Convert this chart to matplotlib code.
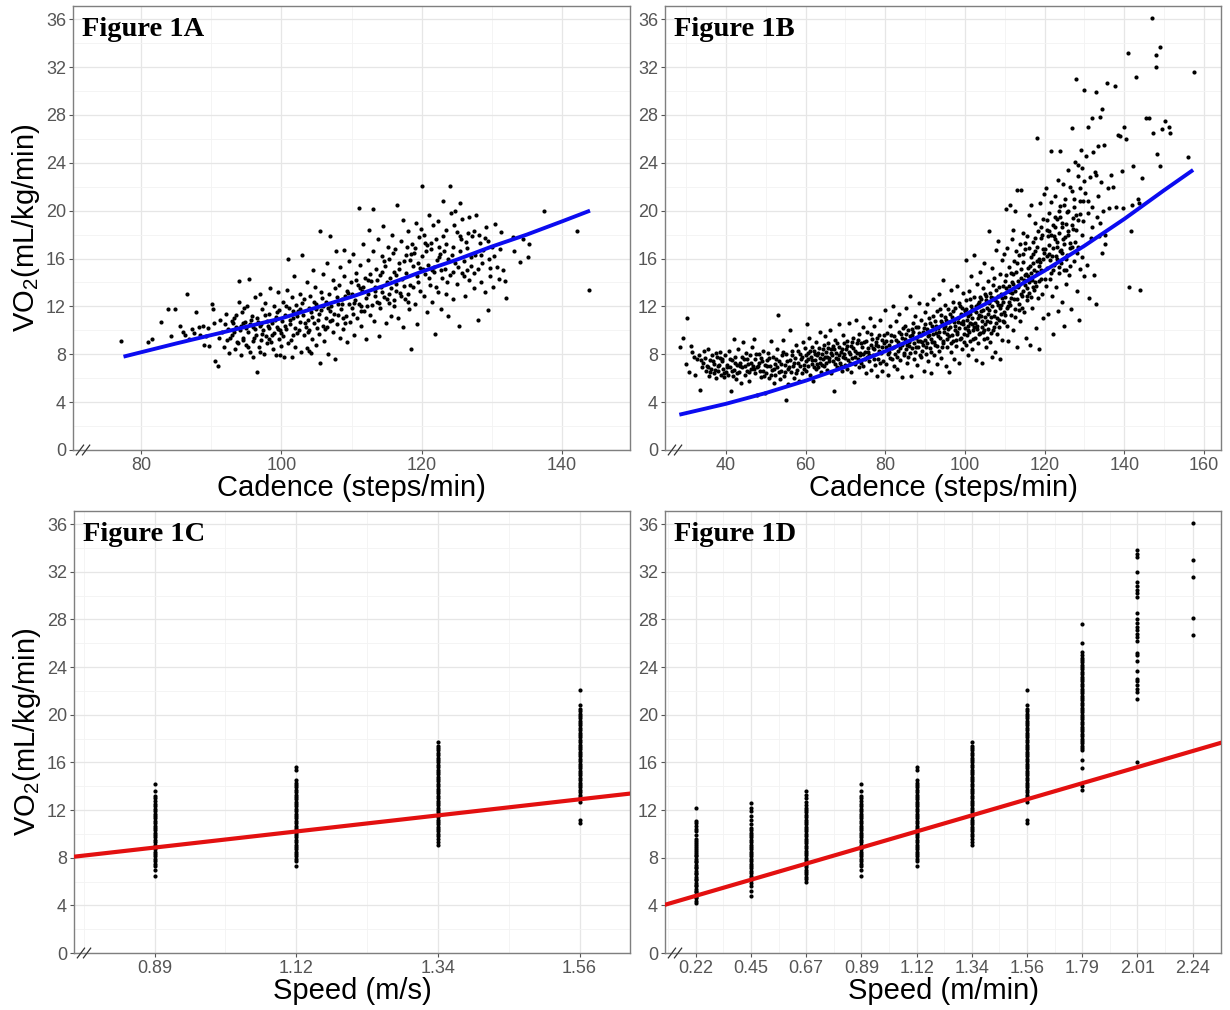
import matplotlib
matplotlib.use("Agg")
import matplotlib.pyplot as plt

plt.rcParams['font.family'] = ['Liberation Sans', 'DejaVu Sans']
plt.rcParams['mathtext.fontset'] = 'custom'
plt.rcParams['mathtext.rm'] = 'Liberation Sans'
plt.rcParams['mathtext.it'] = 'Liberation Sans:italic'

# ---- Figure 1A: cadence vs VO2 (cadence, VO2) ----
panel_a_points = [
    (77.2, 9.1), (81.0, 9.0), (81.6, 9.3), (82.8, 10.7), (83.8, 11.8), (84.2, 9.5), (84.9, 11.8),
    (85.6, 10.4), (86.0, 9.9), (86.3, 9.6), (86.5, 13.0), (86.8, 9.3), (87.2, 10.1), (87.5, 9.8),
    (87.9, 11.5), (88.2, 10.3), (88.4, 9.6), (88.8, 10.4), (89.0, 8.8), (89.2, 9.5), (89.5, 10.2),
    (89.7, 8.7), (90.1, 12.2), (90.2, 11.8), (90.4, 10.6), (90.6, 7.4), (90.9, 7.0), (91.1, 9.4),
    (91.3, 10.9), (91.6, 9.9), (91.8, 8.6), (92.0, 10.5), (92.1, 11.4), (92.3, 9.2), (92.6, 8.1),
    (92.9, 10.8),
    (93.0, 9.6), (93.2, 11.0), (93.4, 8.4), (93.5, 10.3), (93.7, 9.0), (93.9, 12.4), (94.0, 14.1),
    (94.1, 10.0), (94.3, 7.9), (94.4, 11.5), (94.6, 9.4), (94.8, 10.7), (94.9, 8.8), (95.1, 12.0),
    (95.2, 9.9), (95.4, 14.3), (95.5, 10.5), (95.6, 8.2), (95.8, 11.2), (95.9, 9.1), (96.0, 7.8),
    (96.2, 10.1), (96.3, 12.8), (96.4, 9.6), (96.5, 6.5), (96.6, 11.0), (96.8, 8.6), (96.9, 10.4),
    (97.0, 13.0), (97.1, 9.2), (97.2, 11.8), (97.4, 10.0), (97.5, 8.0), (97.6, 12.3), (97.8, 9.5),
    (97.9, 10.8), (98.0, 8.9), (98.2, 11.4), (98.3, 10.2), (98.4, 13.5), (98.5, 9.0), (98.7, 10.6),
    (98.8, 8.4), (98.9, 12.0), (99.0, 9.8), (99.2, 11.1), (99.3, 7.9), (99.4, 10.3), (99.5, 13.2),
    (99.6, 9.3), (99.7, 11.7), (99.8, 10.0), (99.9, 8.7),
    (100.1, 10.8), (100.2, 12.4), (100.3, 9.5), (100.4, 7.8), (100.5, 11.3), (100.7, 10.1),
    (100.8, 13.4), (100.9, 8.9), (101.0, 16.0), (101.1, 11.9), (101.2, 10.5), (101.4, 9.2),
    (101.5, 12.8), (101.6, 11.0), (101.8, 14.5), (101.9, 10.2), (102.0, 8.6), (102.1, 12.1),
    (102.3, 9.8), (102.4, 11.6), (102.6, 13.0), (102.7, 10.7), (102.8, 8.2), (103.0, 16.3),
    (103.1, 11.3), (103.2, 9.6), (103.3, 12.6), (103.5, 10.3), (103.6, 14.0), (103.7, 8.5),
    (103.9, 11.9), (104.0, 10.0), (104.1, 12.9), (104.3, 9.3), (104.4, 11.1), (104.5, 15.0),
    (104.7, 10.6), (104.8, 13.6), (104.9, 8.8), (105.0, 12.2), (105.2, 10.9), (105.3, 9.7),
    (105.5, 18.3), (105.5, 7.3), (105.6, 11.7), (105.7, 13.2), (105.9, 10.4), (106.0, 14.7),
    (106.1, 9.1), (106.3, 12.4), (106.4, 11.0), (106.5, 15.6), (106.7, 8.0), (106.8, 13.0),
    (106.9, 10.8), (107.0, 17.9), (107.1, 12.0), (107.3, 9.9), (107.4, 14.2), (107.5, 11.4),
    (107.7, 7.6), (107.8, 16.6), (107.9, 12.8), (108.0, 10.5), (108.2, 13.8), (108.3, 9.4),
    (108.4, 15.3), (108.5, 11.8), (108.7, 12.6), (108.8, 10.1), (108.9, 14.5), (109.0, 16.7),
    (109.2, 11.2), (109.3, 13.3), (109.4, 9.0), (109.6, 12.2), (109.7, 15.8), (109.8, 10.7),
    (109.9, 14.0),
    (110.0, 11.9), (110.1, 13.0), (110.2, 16.4), (110.4, 9.6), (110.5, 12.5), (110.6, 14.8),
    (110.8, 11.0), (110.9, 13.8), (111.0, 20.2), (111.1, 12.2), (111.2, 15.5), (111.4, 10.4),
    (111.5, 13.3), (111.6, 17.2), (111.8, 11.6), (111.9, 14.4), (112.0, 12.7), (112.1, 9.3),
    (112.3, 15.9), (112.4, 13.0), (112.5, 18.4), (112.6, 11.3), (112.8, 14.1), (112.9, 12.1),
    (113.0, 20.1), (113.1, 16.6), (113.2, 10.8), (113.4, 13.6), (113.5, 15.1), (113.6, 12.4),
    (113.8, 17.6), (113.9, 9.5), (114.0, 14.6), (114.1, 11.9), (114.3, 16.2), (114.4, 13.2),
    (114.5, 18.7), (114.7, 12.8), (114.8, 15.4), (114.9, 10.6), (115.0, 14.0), (115.2, 17.0),
    (115.3, 12.3), (115.4, 16.0), (115.6, 13.5), (115.7, 11.2), (115.8, 18.0), (116.0, 14.9),
    (116.1, 12.0), (116.2, 16.8), (116.4, 13.9), (116.5, 20.5), (116.6, 11.0), (116.8, 15.6),
    (116.9, 13.1), (117.0, 17.5), (117.2, 14.3), (117.3, 10.3), (117.4, 19.2), (117.6, 12.6),
    (117.7, 16.3), (117.8, 14.8), (118.0, 13.0), (118.1, 18.3), (118.2, 11.8), (118.4, 15.9),
    (118.5, 8.4), (118.6, 17.2), (118.8, 13.6), (118.9, 16.5), (119.0, 12.2), (119.2, 19.0),
    (119.3, 14.5), (119.4, 10.5), (119.6, 17.8), (119.7, 15.2), (119.8, 13.3), (119.9, 18.5),
    (120.0, 22.1), (120.1, 16.2), (120.3, 12.9), (120.4, 18.0), (120.5, 14.7), (120.7, 11.5),
    (120.8, 17.1), (120.9, 15.5), (121.0, 19.6), (121.2, 13.8), (121.3, 16.8), (121.5, 12.4),
    (121.6, 18.8), (121.7, 14.9), (121.9, 9.7), (122.0, 17.6), (122.2, 15.9), (122.3, 13.2),
    (122.4, 19.1), (122.6, 16.4), (122.7, 11.8), (122.9, 14.4), (123.0, 20.8), (123.1, 17.9),
    (123.3, 15.1), (123.4, 13.0), (123.5, 18.4), (123.7, 11.2), (123.8, 16.0), (124.0, 22.1),
    (124.1, 14.6), (124.2, 19.8), (124.4, 17.0), (124.5, 12.6), (124.7, 15.6), (124.8, 20.0),
    (125.0, 18.2), (125.1, 13.9), (125.3, 10.4), (125.4, 20.6), (125.5, 16.6), (125.7, 14.8),
    (125.8, 19.3), (126.0, 15.8), (126.2, 12.9), (126.3, 17.4), (126.5, 16.9), (126.7, 14.2),
    (126.8, 19.5), (127.0, 15.4), (127.2, 17.9), (127.4, 13.5), (127.6, 16.3), (127.8, 19.6),
    (128.0, 10.9), (128.1, 15.1), (128.3, 17.3), (128.5, 14.0), (128.8, 16.7), (129.0, 13.2),
    (129.2, 18.6), (129.4, 11.7), (129.6, 16.0), (129.8, 14.5), (130.0, 17.0), (130.2, 13.6),
    (130.5, 18.9), (130.8, 15.3), (131.0, 14.3), (131.3, 18.2), (131.6, 15.0), (131.9, 14.1),
    (132.0, 12.7),
    (133.0, 17.8), (133.2, 16.6), (134.0, 15.7), (134.5, 17.6), (135.2, 16.1), (135.3, 17.2),
    (137.5, 20.0), (142.2, 18.3), (143.8, 13.4),
]

# more of the dense core of 1A
panel_a_core = [
    (92.4, 10.1), (92.7, 9.4), (93.1, 10.6), (93.3, 9.9), (93.6, 11.3), (93.8, 8.9), (94.2, 10.4),
    (94.5, 9.2), (94.7, 11.9), (95.0, 10.2), (95.3, 8.6), (95.7, 10.9), (96.1, 9.4), (96.7, 10.7),
    (97.3, 9.7), (97.7, 11.3), (98.1, 10.4), (98.6, 9.6), (99.1, 10.9), (99.5, 10.1), (100.0, 9.8),
    (100.6, 12.0), (101.3, 10.9), (101.7, 9.6), (102.2, 11.2), (102.5, 10.0), (102.9, 12.3),
    (103.4, 10.6), (103.8, 9.9), (104.2, 11.5), (104.6, 12.4), (105.1, 10.2), (105.4, 11.4),
    (105.8, 12.7), (106.2, 10.1), (106.6, 11.9), (107.2, 10.9), (107.6, 13.5), (108.1, 11.3),
    (108.6, 12.2), (109.1, 10.6), (109.5, 13.1), (110.3, 12.3), (110.7, 14.2), (111.3, 11.6),
    (111.7, 13.6), (112.2, 12.0), (112.7, 14.7), (113.3, 12.9), (113.7, 14.2), (114.2, 13.6),
    (114.6, 15.8), (115.1, 12.6), (115.5, 14.4), (115.9, 16.5), (116.3, 13.3), (116.7, 15.1),
    (117.1, 12.9), (117.5, 15.8), (117.9, 17.0), (118.3, 13.8), (118.7, 15.4), (119.1, 16.9),
    (119.5, 14.0), (120.2, 15.1), (120.6, 16.6), (121.1, 14.4), (121.4, 17.3), (121.8, 15.3),
    (122.1, 13.6), (122.5, 17.0), (122.8, 15.0), (123.2, 16.6), (123.6, 14.0), (124.3, 16.3),
    (124.6, 18.8), (125.2, 15.3), (125.6, 17.6), (126.1, 14.5), (126.6, 18.1), (127.1, 16.1),
    (127.5, 14.8), (128.2, 18.0), (128.6, 15.6), (129.1, 17.7), (129.7, 15.2), (130.3, 16.2),
    (131.1, 16.8), (99.8, 7.9), (101.5, 7.8), (104.0, 8.3), (104.2, 8.1), (97.0, 8.2),
    (94.6, 10.6), (95.9, 10.3), (97.1, 10.5), (98.3, 9.3), (99.4, 11.5), (100.5, 10.4),
    (101.6, 11.6), (102.7, 11.8), (103.8, 10.9), (104.9, 11.8), (105.9, 12.0), (107.0, 11.6),
    (108.1, 12.2), (109.1, 12.9), (110.2, 11.4), (111.2, 13.5), (112.3, 14.2), (113.3, 13.3),
    (114.4, 14.9), (115.4, 13.0), (116.4, 14.6), (117.5, 13.7), (118.5, 16.4), (119.5, 15.6),
    (120.5, 17.3), (121.5, 15.0), (122.5, 16.1), (123.5, 17.2), (124.5, 14.9), (125.5, 17.9),
    (126.5, 15.0), (127.5, 18.3), (128.5, 16.3), (129.5, 17.5), (106.5, 10.3), (108.8, 11.0),
    (111.4, 12.0), (113.9, 12.3), (116.0, 12.5), (118.1, 12.4),
]

# fitted curve of 1A
fit_a_cadence = [77.5, 85, 90, 95, 100, 105, 110, 115, 120, 125, 130, 135, 140, 144]
fit_a_vo2 = [7.8, 8.9, 9.6, 10.3, 11.0, 11.9, 12.8, 13.8, 14.9, 15.9, 17.0, 18.0, 19.1, 20.0]

# ---- Figure 1B ----
panel_b_points = [
    (28.5, 8.6), (29.3, 9.4), (30.2, 11.0), (30.0, 7.2), (30.8, 6.5), (31.2, 8.7), (31.4, 8.2),
    (31.9, 7.8), (32.3, 6.3), (32.8, 7.6), (33.2, 7.9), (33.6, 5.0), (34.0, 6.9), (34.3, 7.3),
    (34.6, 8.3), (35.0, 6.6), (35.2, 7.0), (35.5, 8.4), (35.8, 6.2), (36.0, 7.5), (36.3, 6.8),
    (36.6, 7.9), (36.9, 6.4), (37.1, 7.2), (37.4, 8.1), (37.6, 6.0), (37.9, 7.0), (38.1, 6.6),
    (38.4, 7.7), (38.6, 8.2), (38.8, 6.3), (39.1, 7.4), (39.3, 6.8), (39.6, 6.1), (39.8, 7.9),
    (40.0, 6.5), (40.2, 7.1), (40.5, 6.3), (40.7, 8.3), (41.0, 6.9), (41.2, 4.9), (41.4, 7.5),
    (41.7, 6.2), (41.9, 9.3), (42.1, 6.7), (42.4, 7.8), (42.6, 5.9), (42.8, 7.1), (43.1, 8.4),
    (43.3, 6.5), (43.6, 7.3), (43.8, 5.6), (44.0, 6.9), (44.3, 9.0), (44.5, 7.6), (44.8, 6.3),
    (45.0, 8.1), (45.2, 6.6), (45.5, 7.2), (45.7, 5.8), (46.0, 7.9), (46.2, 6.8), (46.5, 8.6),
    (46.7, 7.0), (47.0, 9.3), (47.2, 6.4), (47.4, 7.6), (47.7, 4.6), (47.9, 6.9), (48.2, 8.0),
    (48.4, 7.3), (48.7, 6.1), (48.9, 7.7), (49.2, 6.6), (49.4, 8.3), (49.7, 7.1), (49.9, 4.8),
    (50.1, 6.4), (50.3, 7.5), (50.6, 8.1), (50.8, 6.0), (51.0, 7.0), (51.3, 9.1), (51.5, 6.7),
    (51.7, 7.8), (52.0, 5.6), (52.2, 7.2), (52.4, 6.3), (52.7, 8.4), (52.9, 6.9), (53.1, 11.3),
    (53.3, 7.4), (53.6, 5.9), (53.8, 6.6), (54.0, 7.9), (54.3, 9.2), (54.5, 6.2), (54.8, 7.1),
    (55.0, 4.2), (55.2, 8.0), (55.5, 6.8), (55.7, 5.5), (56.0, 7.5), (56.2, 10.0), (56.4, 6.5),
    (56.7, 8.3), (56.9, 7.0), (57.2, 6.0), (57.4, 7.7), (57.6, 8.8), (57.9, 6.7), (58.1, 7.3),
    (58.4, 5.8), (58.6, 8.0), (58.8, 7.6), (59.1, 6.4), (59.3, 9.0), (59.5, 7.1), (59.8, 8.5),
    (60.0, 7.4), (60.2, 6.6), (60.3, 10.5), (60.5, 8.1), (60.7, 7.0), (60.9, 9.4), (61.1, 6.3),
    (61.3, 7.8), (61.5, 8.6), (61.7, 7.2), (61.9, 5.8), (62.1, 8.3), (62.3, 7.5), (62.5, 6.8),
    (62.7, 9.0), (62.9, 7.9), (63.1, 6.9), (63.3, 8.5), (63.5, 7.3), (63.7, 9.9), (63.9, 6.5),
    (64.1, 8.0), (64.3, 7.6), (64.5, 8.8), (64.7, 7.0), (64.9, 9.5), (65.1, 8.2), (65.3, 6.7),
    (65.5, 7.8), (65.7, 8.9), (65.9, 7.4), (66.1, 10.0), (66.3, 8.4), (66.5, 6.4), (66.7, 7.9),
    (66.9, 8.7), (67.1, 4.9), (67.3, 7.2), (67.5, 9.2), (67.7, 8.1), (67.9, 6.9), (68.1, 7.6),
    (68.3, 8.6), (68.5, 10.5), (68.7, 7.3), (68.9, 8.2), (69.1, 6.6), (69.3, 9.6), (69.5, 7.8),
    (69.7, 8.9), (69.9, 7.1),
    (70.1, 8.4), (70.3, 6.8), (70.5, 9.1), (70.7, 7.5), (70.9, 10.6), (71.1, 8.0), (71.3, 6.5),
    (71.5, 8.7), (71.7, 7.7), (71.9, 9.4), (72.1, 5.7), (72.3, 8.3), (72.5, 7.2), (72.7, 10.9),
    (72.9, 8.9), (73.1, 7.6), (73.3, 6.9), (73.5, 9.7), (73.7, 8.1), (73.9, 7.3), (74.1, 8.6),
    (74.3, 10.3), (74.5, 7.0), (74.7, 9.0), (74.9, 8.2), (75.1, 6.4), (75.3, 7.8), (75.5, 9.9),
    (75.7, 8.5), (75.9, 7.4), (76.1, 11.0), (76.3, 8.8), (76.5, 6.7), (76.7, 9.3), (76.9, 7.9),
    (77.1, 8.4), (77.3, 10.4), (77.5, 7.1), (77.7, 9.0), (77.9, 6.2), (78.1, 8.7), (78.3, 7.6),
    (78.5, 9.6), (78.7, 10.9), (78.9, 8.1), (79.1, 6.6), (79.3, 9.2), (79.5, 7.4), (79.7, 8.9),
    (79.9, 11.7),
    (80.1, 8.6), (80.3, 7.2), (80.5, 9.8), (80.7, 6.3), (80.9, 8.2), (81.1, 10.4), (81.3, 7.7),
    (81.5, 9.1), (81.7, 8.5), (81.9, 12.0), (82.1, 7.0), (82.3, 9.5), (82.5, 8.0), (82.7, 10.8),
    (82.9, 6.8), (83.1, 9.0), (83.3, 8.3), (83.5, 11.4), (83.7, 7.5), (83.9, 9.7), (84.1, 8.8),
    (84.3, 6.1), (84.5, 10.2), (84.7, 7.9), (84.9, 9.3), (85.1, 11.9), (85.3, 8.4), (85.5, 7.3),
    (85.7, 10.0), (85.9, 9.0), (86.1, 12.9), (86.3, 8.1), (86.5, 6.2), (86.7, 9.6), (86.9, 10.6),
    (87.1, 7.6), (87.3, 8.9), (87.5, 11.2), (87.7, 9.4), (87.9, 7.1), (88.1, 10.3), (88.3, 8.6),
    (88.5, 12.3), (88.7, 9.1), (88.9, 7.8), (89.1, 10.9), (89.3, 8.3), (89.5, 9.9), (89.7, 6.6),
    (89.9, 11.5),
    (90.1, 9.2), (90.3, 8.0), (90.4, 12.2), (90.6, 10.1), (90.8, 7.4), (91.0, 9.6), (91.1, 11.0),
    (91.3, 8.5), (91.5, 6.4), (91.7, 10.4), (91.8, 9.0), (92.0, 12.6), (92.2, 7.9), (92.4, 10.8),
    (92.5, 8.8), (92.7, 9.8), (92.9, 11.6), (93.1, 7.2), (93.2, 10.2), (93.4, 8.3), (93.6, 13.0),
    (93.8, 9.4), (93.9, 11.3), (94.1, 7.7), (94.3, 10.6), (94.5, 8.9), (94.6, 14.2), (94.8, 9.9),
    (95.0, 12.1), (95.2, 7.0), (95.3, 10.9), (95.5, 8.6), (95.7, 11.8), (95.9, 9.5), (96.0, 6.5),
    (96.2, 10.3), (96.4, 13.4), (96.6, 8.2), (96.7, 11.1), (96.9, 9.1), (97.1, 12.4), (97.3, 7.6),
    (97.4, 10.0), (97.6, 11.9), (97.8, 8.7), (98.0, 13.7), (98.1, 9.7), (98.3, 10.7), (98.5, 7.3),
    (98.7, 12.0), (98.8, 9.3), (99.0, 11.4), (99.2, 8.4), (99.4, 10.5), (99.5, 13.1), (99.7, 9.0),
    (99.9, 11.7),
    (100.0, 10.2), (100.2, 8.8), (100.3, 15.9), (100.4, 12.5), (100.6, 9.6), (100.7, 11.2),
    (100.9, 7.9), (101.0, 13.3), (101.2, 10.6), (101.3, 9.1), (101.5, 12.0), (101.6, 14.5),
    (101.8, 8.4), (101.9, 11.0), (102.1, 10.0), (102.2, 16.3), (102.4, 12.8), (102.5, 9.4),
    (102.7, 11.5), (102.8, 7.5), (103.0, 13.9), (103.1, 10.4), (103.3, 12.2), (103.4, 8.9),
    (103.6, 11.3), (103.7, 14.9), (103.9, 9.8), (104.0, 12.6), (104.2, 10.8), (104.3, 7.3),
    (104.5, 13.5), (104.6, 11.7), (104.8, 9.3), (104.9, 15.6), (105.1, 10.5), (105.2, 12.9),
    (105.4, 8.6), (105.5, 11.9), (105.7, 14.1), (105.8, 10.1), (106.0, 18.3), (106.1, 12.3),
    (106.3, 9.0), (106.4, 13.1), (106.6, 11.1), (106.7, 7.8), (106.9, 15.2), (107.0, 12.7),
    (107.2, 10.3), (107.3, 14.4), (107.5, 8.2), (107.6, 11.6), (107.8, 16.7), (107.9, 13.4),
    (108.1, 9.7), (108.2, 12.1), (108.4, 17.5), (108.5, 10.9), (108.7, 14.7), (108.8, 7.6),
    (109.0, 13.0), (109.1, 11.4), (109.3, 15.9), (109.4, 9.2), (109.6, 12.4), (109.7, 16.4),
    (109.9, 10.7),
    (100.5, 10.9), (101.1, 9.9), (101.7, 11.8), (102.3, 10.3), (102.9, 12.0), (103.5, 9.7),
    (104.1, 11.6), (104.7, 10.0), (105.3, 12.5), (105.9, 11.4), (106.5, 9.8), (107.1, 13.8),
    (107.7, 10.6), (108.3, 12.9), (108.9, 11.9), (109.5, 13.7),
    (110.0, 12.8), (110.2, 20.1), (110.3, 14.6), (110.5, 10.4), (110.6, 16.9), (110.8, 12.0),
    (110.9, 9.1), (111.1, 15.3), (111.2, 20.5), (111.4, 13.2), (111.5, 11.3), (111.7, 17.6),
    (111.8, 14.0), (112.0, 10.0), (112.1, 18.4), (112.3, 12.6), (112.4, 15.8), (112.6, 20.0),
    (112.7, 11.8), (112.9, 14.9), (113.0, 8.6), (113.2, 21.7), (113.3, 13.6), (113.5, 16.3),
    (113.6, 12.2), (113.8, 17.2), (113.9, 10.8), (114.1, 14.4), (114.2, 21.7), (114.4, 12.9),
    (114.5, 15.7), (114.7, 18.1), (114.8, 11.5), (115.0, 13.8), (115.1, 16.8), (115.3, 9.4),
    (115.4, 14.7), (115.6, 17.9), (115.7, 12.5), (115.9, 15.2), (116.0, 19.6), (116.2, 13.1),
    (116.3, 8.8), (116.5, 16.1), (116.6, 20.5), (116.8, 14.2), (116.9, 11.9), (117.1, 17.4),
    (117.2, 15.6), (117.4, 13.4), (117.5, 19.0), (117.7, 16.6), (117.8, 10.2), (118.0, 26.1),
    (118.1, 14.9), (118.3, 18.3), (118.4, 12.7), (118.6, 16.0), (118.7, 8.4), (118.9, 20.6),
    (119.0, 15.0), (119.2, 17.7), (119.3, 13.0), (119.5, 19.3), (119.6, 11.0), (119.8, 16.5),
    (119.9, 21.4),
    (110.4, 13.5), (111.0, 12.4), (111.6, 14.8), (112.2, 13.9), (112.8, 16.6), (113.4, 14.1),
    (114.0, 15.1), (114.6, 13.3), (115.2, 17.3), (115.8, 14.5), (116.4, 15.4), (117.0, 16.4),
    (117.6, 14.0), (118.2, 17.0), (118.8, 15.7), (119.4, 18.0),
    (120.1, 16.8), (120.3, 13.7), (120.4, 21.9), (120.6, 18.4), (120.7, 15.2), (120.9, 11.4),
    (121.0, 19.8), (121.2, 17.1), (121.3, 14.3), (121.5, 25.0), (121.6, 20.7), (121.8, 16.2),
    (121.9, 12.9), (122.1, 18.8), (122.2, 9.7), (122.4, 15.5), (122.5, 21.2), (122.7, 17.6),
    (122.8, 13.6), (123.0, 19.3), (123.1, 16.0), (123.3, 22.6), (123.4, 11.6), (123.6, 18.1),
    (123.7, 14.8), (123.9, 20.4), (124.0, 25.0), (124.2, 16.7), (124.3, 12.4), (124.5, 19.0),
    (124.6, 22.2), (124.8, 15.0), (124.9, 10.4), (125.1, 17.8), (125.2, 21.0), (125.4, 13.9),
    (125.5, 18.9), (125.7, 16.3), (125.8, 23.4), (126.0, 20.0), (126.2, 14.6), (126.4, 17.3),
    (126.6, 11.8), (126.8, 21.6), (127.0, 26.9), (127.2, 18.5), (127.4, 15.8), (127.6, 24.1),
    (127.8, 19.6), (128.0, 31.0), (128.1, 13.3), (128.3, 22.9), (128.5, 17.0), (128.7, 10.9),
    (128.9, 20.8), (129.1, 25.1), (129.3, 16.1), (129.5, 23.6), (129.7, 19.1), (129.9, 14.5),
    (120.8, 17.9), (121.4, 15.9), (122.0, 16.9), (122.6, 19.5), (123.2, 17.4), (123.8, 16.6),
    (124.4, 18.6), (125.0, 17.2), (125.6, 19.9), (126.3, 16.9), (126.9, 18.8), (127.5, 20.3),
    (128.2, 16.5), (128.8, 21.9), (129.4, 18.0),
    (130.0, 30.1), (130.2, 21.5), (130.4, 24.6), (130.6, 15.5), (130.8, 19.8), (131.0, 27.0),
    (131.2, 12.7), (131.4, 22.8), (131.6, 17.7), (131.8, 27.7), (132.0, 20.3), (132.2, 24.9),
    (132.4, 14.6), (132.6, 23.2), (132.8, 12.2), (133.0, 29.9), (133.1, 19.5), (133.3, 25.4),
    (133.5, 21.2), (133.7, 17.9), (133.9, 27.8), (134.1, 22.4), (134.3, 16.5), (134.5, 28.5),
    (134.7, 20.0), (134.9, 25.5), (135.1, 17.2), (135.3, 18.0), (135.7, 30.7), (136.0, 21.9),
    (136.3, 20.2), (136.8, 23.0), (137.2, 22.0), (137.6, 30.4), (138.0, 20.3), (138.5, 26.3),
    (139.0, 26.2), (139.4, 23.3), (139.7, 20.2), (140.0, 27.0),
    (140.5, 26.0), (141.0, 33.2), (141.3, 13.6), (141.8, 18.3), (142.0, 20.5), (142.2, 23.7),
    (143.0, 31.2), (143.4, 21.0), (143.7, 20.6), (144.0, 13.4), (144.5, 22.7), (145.5, 27.7),
    (146.2, 27.7), (147.0, 36.1), (147.2, 26.5), (148.0, 33.0), (148.1, 32.0), (148.3, 24.7),
    (149.0, 33.7), (149.0, 23.7), (149.5, 26.8), (150.3, 27.5), (151.2, 27.0), (151.6, 26.5),
    (156.0, 24.5), (157.5, 31.6),
]

# more of the dense band of 1B
panel_b_core = [
    (33.8, 7.5), (34.8, 7.7), (35.4, 6.9), (36.1, 6.5), (36.8, 7.4), (37.3, 6.7), (37.8, 7.8),
    (38.3, 7.1), (38.9, 7.6), (39.4, 6.4), (40.3, 6.9), (40.9, 7.6), (41.5, 6.6), (42.2, 7.3),
    (42.9, 6.4), (43.5, 7.0), (44.1, 7.8), (44.7, 7.0), (45.3, 7.6), (45.9, 6.5), (46.4, 7.3),
    (47.1, 6.8), (47.6, 8.0), (48.1, 7.0), (48.6, 6.6), (49.1, 7.4), (49.6, 6.2), (50.4, 7.0),
    (50.9, 7.7), (51.4, 6.3), (52.1, 6.8), (52.6, 7.6), (53.2, 6.5), (53.9, 7.2), (54.4, 8.2),
    (54.9, 6.5), (55.4, 7.4), (55.9, 6.9), (56.5, 7.9), (57.0, 7.3), (57.5, 6.4), (58.0, 8.3),
    (58.5, 7.0), (59.0, 7.8), (59.6, 6.8),
    (60.1, 7.9), (60.6, 7.6), (61.0, 8.3), (61.6, 7.5), (62.0, 6.9), (62.4, 8.0), (62.8, 7.2),
    (63.2, 8.1), (63.6, 7.7), (64.0, 7.1), (64.4, 8.4), (64.8, 7.8), (65.2, 7.3), (65.6, 8.5),
    (66.0, 7.7), (66.4, 8.1), (66.8, 7.4), (67.2, 8.4), (67.6, 7.7), (68.0, 8.9), (68.4, 7.9),
    (68.8, 7.0), (69.2, 8.4), (69.6, 8.0), (70.0, 7.7), (70.4, 8.7), (70.8, 8.2), (71.2, 7.3),
    (71.6, 9.0), (72.0, 8.5), (72.4, 7.8), (72.8, 8.1), (73.2, 9.2), (73.6, 7.9), (74.0, 8.9),
    (74.4, 8.0), (74.8, 7.6), (75.2, 9.1), (75.6, 8.2), (76.0, 7.9), (76.4, 9.7), (76.8, 8.5),
    (77.2, 7.6), (77.6, 8.8), (78.0, 9.4), (78.4, 8.3), (78.8, 7.3), (79.2, 8.6), (79.6, 9.6),
    (80.2, 9.1), (80.6, 8.0), (81.0, 8.8), (81.4, 9.6), (81.8, 7.6), (82.2, 8.6), (82.6, 9.2),
    (83.0, 7.8), (83.4, 9.9), (83.8, 8.5), (84.2, 9.4), (84.6, 8.1), (85.0, 10.4), (85.4, 8.8),
    (85.8, 7.8), (86.2, 9.5), (86.6, 8.5), (87.0, 9.9), (87.4, 8.2), (87.8, 10.3), (88.2, 9.1),
    (88.6, 7.9), (89.0, 9.6), (89.4, 8.8), (89.8, 10.2), (90.2, 8.6), (90.7, 9.5), (91.2, 10.6),
    (91.6, 8.2), (92.1, 9.7), (92.6, 10.1), (93.0, 8.7), (93.5, 9.9), (94.0, 10.8), (94.4, 9.1),
    (94.9, 10.4), (95.4, 9.3), (95.8, 10.1), (96.3, 11.4), (96.8, 9.6), (97.2, 10.7), (97.7, 9.2),
    (98.2, 11.0), (98.6, 10.2), (99.1, 9.4), (99.6, 10.8),
    (100.1, 11.6), (100.8, 10.4), (101.4, 11.4), (102.0, 9.3), (102.6, 10.6), (103.2, 11.0),
    (103.8, 12.8), (104.4, 10.3), (105.0, 11.1), (105.6, 9.4), (106.2, 10.7), (106.8, 12.0),
    (107.4, 11.2), (108.0, 12.4), (108.6, 10.3), (109.2, 12.7), (109.8, 11.5), (110.1, 11.3),
    (110.7, 13.3), (111.3, 12.1), (111.9, 13.1), (112.5, 11.1), (113.1, 12.6), (113.7, 13.8),
    (114.3, 11.9), (114.9, 14.2), (115.5, 12.9), (116.1, 14.0), (116.7, 12.8), (117.3, 15.0),
    (117.9, 13.7), (118.5, 15.4), (119.1, 14.3), (119.7, 16.0),
    (120.5, 16.2), (121.1, 18.3), (121.7, 14.8), (122.3, 17.9), (122.9, 16.2), (123.5, 20.0),
    (124.1, 15.6), (124.7, 17.6), (125.3, 16.0), (125.9, 18.0), (126.5, 15.4), (127.1, 19.4),
    (127.7, 17.4), (128.4, 19.2), (129.0, 15.1), (129.6, 20.8),
    (85.2, 9.7), (86.0, 8.7), (86.8, 10.1), (87.6, 8.6), (88.4, 9.8), (89.2, 9.0), (90.0, 10.5),
    (90.5, 8.9), (91.4, 9.3), (91.9, 11.2), (92.3, 9.0), (92.8, 10.4), (93.3, 9.5), (93.7, 11.8),
    (94.2, 8.6), (94.7, 10.2), (95.1, 11.1), (95.6, 9.7), (96.1, 10.7), (96.5, 8.9), (97.0, 11.6),
    (97.5, 10.4), (97.9, 9.9), (98.4, 12.3), (98.9, 10.6), (99.3, 11.9), (99.8, 9.7),
    (100.3, 11.8), (100.9, 10.0), (101.4, 12.6), (101.9, 10.5), (102.4, 11.7), (103.0, 10.1),
    (103.5, 12.4), (104.0, 11.2), (104.5, 9.9), (105.0, 13.0), (105.5, 10.8), (106.0, 11.7),
    (106.5, 12.8), (107.0, 10.0), (107.5, 12.5), (108.0, 11.0), (108.5, 13.6), (109.0, 12.1),
    (109.5, 10.8), (110.0, 14.1), (110.5, 11.9), (111.0, 13.7), (111.5, 12.7), (112.0, 14.7),
    (112.5, 13.3), (113.0, 15.6), (113.5, 11.7), (114.0, 13.0), (114.5, 16.4), (115.0, 14.6),
    (115.5, 13.5), (116.0, 16.9), (116.5, 14.8), (117.0, 13.6), (117.5, 17.7), (118.0, 15.8),
    (118.5, 14.1), (119.0, 18.6), (119.5, 16.8), (120.0, 14.3), (120.5, 19.2), (121.0, 16.4),
    (121.5, 18.0), (122.0, 15.0), (122.5, 18.6), (123.0, 17.0), (123.5, 15.3), (124.0, 19.5),
    (124.5, 16.5), (125.0, 20.5), (125.5, 15.0), (126.0, 18.3), (126.5, 22.0), (127.0, 17.0),
    (127.5, 21.0), (128.0, 18.4), (128.5, 23.8), (129.0, 19.7), (130.0, 22.5), (131.0, 20.8),
    (132.0, 18.6), (133.0, 23.0), (134.0, 19.0),
]

fit_b_cadence = [28.3, 40, 50, 60, 70, 80, 90, 100, 110, 120, 130, 140, 150, 157.3]
fit_b_vo2 = [2.95, 3.86, 4.76, 5.79, 6.95, 8.25, 9.7, 11.3, 13.06, 14.98, 17.06, 19.3, 21.7, 23.4]

# ---- Figures 1C / 1D: treadmill speed stages ----
speeds = [0.2235, 0.447, 0.6705, 0.894, 1.1175, 1.341, 1.5645, 1.788, 2.0115, 2.235]
speed_labels = ['0.22', '0.45', '0.67', '0.89', '1.12', '1.34', '1.56', '1.79', '2.01', '2.24']

vo2_022 = [4.2, 4.4, 4.6, 4.7, 4.9, 5.1, 5.2, 5.4, 5.6, 5.7, 5.9, 6.1, 6.2, 6.4, 6.6, 6.7, 6.9,
           7.1, 7.2, 7.4, 7.6, 7.7, 7.9, 8.1, 8.2, 8.4, 8.6, 8.7, 8.9, 9.1, 9.2, 9.4, 9.6,
           9.9, 10.2, 10.4, 10.7, 10.9, 11.1, 12.2]
vo2_045 = [4.8, 5.2, 5.6, 5.9, 6.1, 6.3, 6.5, 6.7, 6.9, 7.1, 7.3, 7.5, 7.7, 7.9, 8.1, 8.3, 8.5,
           8.7, 8.9, 9.1, 9.3, 9.5, 9.7, 9.9, 10.1, 10.3, 10.5, 10.8, 11.2, 11.5, 11.9, 12.2,
           12.6]
vo2_067 = [6.0, 6.2, 6.4, 6.6, 6.8, 7.0, 7.2, 7.4, 7.6, 7.8, 8.0, 8.2, 8.4, 8.6, 8.8, 9.0, 9.2,
           9.4, 9.6, 9.8, 10.0, 10.2, 10.4, 10.6, 10.8, 11.0, 11.2, 11.4, 11.6, 11.8, 12.0,
           12.2, 12.4, 12.7, 13.0, 13.3, 13.6]
vo2_089 = [6.5, 7.0, 7.3, 7.5, 7.7, 7.9, 8.1, 8.3, 8.5, 8.7, 8.9, 9.1, 9.3, 9.5, 9.7, 9.9,
           10.1, 10.3, 10.5, 10.7, 10.9, 11.1, 11.3, 11.5, 11.7, 11.9, 12.1, 12.3, 12.5, 12.8,
           13.0, 13.2, 13.6, 14.2]
vo2_112 = [7.3, 7.7, 7.9, 8.1, 8.3, 8.5, 8.7, 8.9, 9.1, 9.3, 9.5, 9.7, 9.9, 10.1, 10.3, 10.5,
           10.7, 10.9, 11.1, 11.3, 11.5, 11.7, 11.9, 12.1, 12.3, 12.5, 12.7, 12.9, 13.1, 13.3,
           13.5, 13.7, 13.9, 14.1, 14.3, 14.5, 15.4, 15.6]
vo2_134 = [9.1, 9.3, 9.6, 9.8, 10.0, 10.2, 10.4, 10.6, 10.8, 11.0, 11.2, 11.4, 11.6, 11.8,
           12.0, 12.2, 12.4, 12.6, 12.8, 13.0, 13.2, 13.4, 13.6, 13.8, 14.0, 14.2, 14.4, 14.6,
           14.8, 15.0, 15.2, 15.4, 15.6, 15.8, 16.0, 16.2, 16.4, 16.6, 16.8, 17.0, 17.2, 17.4,
           17.7]
vo2_156 = [10.9, 11.2, 12.7, 12.9, 13.1, 13.3, 13.5, 13.7, 13.9, 14.1, 14.3, 14.5, 14.7, 14.9,
           15.1, 15.3, 15.5, 15.7, 15.9, 16.1, 16.3, 16.5, 16.7, 16.9, 17.1, 17.3, 17.5, 17.7,
           17.9, 18.1, 18.3, 18.5, 18.7, 18.9, 19.1, 19.3, 19.5, 19.7, 19.9, 20.1, 20.3, 20.5,
           20.8, 22.1]
vo2_179 = [13.7, 14.0, 15.5, 16.2, 17.0, 17.2, 17.4, 17.6, 17.8, 18.0, 18.2, 18.4, 18.6, 18.8,
           19.0, 19.2, 19.4, 19.6, 19.8, 20.0, 20.2, 20.4, 20.6, 20.8, 21.0, 21.2, 21.4, 21.6,
           21.8, 22.0, 22.2, 22.4, 22.6, 22.8, 23.0, 23.2, 23.4, 23.6, 23.8, 24.0, 24.2, 24.4,
           24.6, 24.8, 25.0, 25.3, 26.0, 27.6]
vo2_201 = [16.0, 21.3, 21.9, 22.2, 22.5, 22.8, 23.0, 23.7, 24.5, 25.0, 25.2, 26.2, 26.5, 26.8,
           27.1, 27.4, 27.7, 28.0, 28.5, 29.9, 30.2, 30.5, 30.8, 31.1, 32.0, 33.2, 33.5, 33.8]
vo2_224 = [26.7, 28.1, 31.6, 33.0, 36.1]

stage_vo2 = [vo2_022, vo2_045, vo2_067, vo2_089, vo2_112, vo2_134, vo2_156, vo2_179, vo2_201, vo2_224]

# linear fit (same in C and D), two points read on the red line
fit_speed = [0.894, 1.5645]
fit_speed_vo2 = [8.85, 12.9]

ylabel = r'VO$_2$(mL/kg/min)'
GRID_MAJ = '#e6e6e6'
GRID_MIN = '#f3f3f3'
BORDER = '#7f7f7f'
BLUE = '#0b0bf0'
RED = '#e31010'
DOT = 9


def style_axes(ax, xlim, xticks, xticklabels, xminor, xlabel, tag, show_ylabel):
    ax.set_xlim(*xlim)
    ax.set_ylim(0, 37.1)
    ax.set_xticks(xticks)
    ax.set_xticklabels(xticklabels)
    ax.set_xticks(xminor, minor=True)
    ax.set_yticks(range(0, 37, 4))
    ax.set_yticks(range(2, 37, 4), minor=True)
    ax.grid(which='major', color=GRID_MAJ, linewidth=0.9, zorder=0)
    ax.grid(which='minor', color=GRID_MIN, linewidth=0.6, zorder=0)
    ax.set_axisbelow(True)
    ax.tick_params(which='major', length=3, width=0.8, color='#555555', pad=2,
                   labelsize=13, labelcolor='#555555')
    ax.tick_params(which='minor', length=0)
    for sp in ax.spines.values():
        sp.set_color(BORDER)
        sp.set_linewidth(1.0)
    ax.set_xlabel(xlabel, fontsize=21, labelpad=0)
    if show_ylabel:
        ax.set_ylabel(ylabel, fontsize=21, labelpad=3)
    ax.text(0.017, 0.932, tag, transform=ax.transAxes, fontsize=20.5, fontweight='bold',
            family='Liberation Serif', va='baseline', ha='left')
    # axis break marks
    for dx in (0.006, 0.017):
        ax.plot([dx, dx + 0.013], [-0.011, 0.011], transform=ax.transAxes, color='#333333',
                linewidth=0.9, clip_on=False, zorder=5)


fig = plt.figure(figsize=(12.3, 10.1), dpi=100)
ax_a = fig.add_axes([73 / 1230, 560 / 1010, 557 / 1230, 444 / 1010])
ax_b = fig.add_axes([665 / 1230, 560 / 1010, 556 / 1230, 444 / 1010])
ax_c = fig.add_axes([74 / 1230, 57 / 1010, 556 / 1230, 442 / 1010])
ax_d = fig.add_axes([665 / 1230, 57 / 1010, 556 / 1230, 442 / 1010])

# A
pts_a = panel_a_points + panel_a_core
ax_a.scatter([p[0] for p in pts_a], [p[1] for p in pts_a], s=DOT, c='black',
             linewidths=0, zorder=3)
ax_a.plot(fit_a_cadence, fit_a_vo2, color=BLUE, linewidth=2.8, zorder=4,
          solid_capstyle='butt')
style_axes(ax_a, (70.3, 149.7), [80, 100, 120, 140], ['80', '100', '120', '140'],
           [90, 110, 130], 'Cadence (steps/min)', 'Figure 1A', True)

# B
pts_b = panel_b_points + panel_b_core
ax_b.scatter([p[0] for p in pts_b], [p[1] for p in pts_b], s=DOT, c='black',
             linewidths=0, zorder=3)
ax_b.plot(fit_b_cadence, fit_b_vo2, color=BLUE, linewidth=2.8, zorder=4,
          solid_capstyle='butt')
style_axes(ax_b, (24.7, 164.3), [40, 60, 80, 100, 120, 140, 160],
           ['40', '60', '80', '100', '120', '140', '160'],
           [30, 50, 70, 90, 110, 130, 150], 'Cadence (steps/min)', 'Figure 1B', False)

# C: only the four faster stages
for spd, vals in zip(speeds[3:7], stage_vo2[3:7]):
    ax_c.scatter([spd] * len(vals), vals, s=DOT, c='black', linewidths=0, zorder=3)
ax_c.axline((fit_speed[0], fit_speed_vo2[0]), (fit_speed[1], fit_speed_vo2[1]),
            color=RED, linewidth=3.0, zorder=4)
minor_c = [(speeds[i] + speeds[i + 1]) / 2 for i in range(2, 6)]
style_axes(ax_c, (0.767, 1.644), speeds[3:7], speed_labels[3:7], minor_c,
           'Speed (m/s)', 'Figure 1C', True)

# D: all stages
for spd, vals in zip(speeds, stage_vo2):
    ax_d.scatter([spd] * len(vals), vals, s=DOT, c='black', linewidths=0, zorder=3)
ax_d.axline((fit_speed[0], fit_speed_vo2[0]), (fit_speed[1], fit_speed_vo2[1]),
            color=RED, linewidth=3.0, zorder=4)
minor_d = [0.112] + [(speeds[i] + speeds[i + 1]) / 2 for i in range(len(speeds) - 1)]
style_axes(ax_d, (0.099, 2.35), speeds, speed_labels, minor_d,
           'Speed (m/min)', 'Figure 1D', False)

fig.savefig('out.png', dpi=100, facecolor='white')
